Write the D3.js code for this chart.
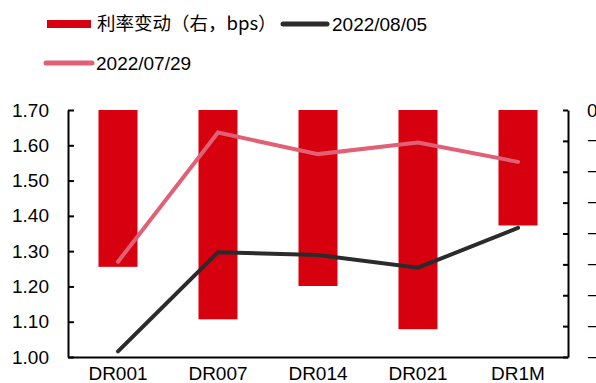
<!DOCTYPE html>
<html>
<head>
<meta charset="utf-8">
<script src="https://cdn.jsdelivr.net/npm/d3@7"></script>
<style>
  html, body { margin: 0; padding: 0; background: #fff; }
  svg { display: block; font-family: "Liberation Sans", Arial, "Noto Sans CJK SC", sans-serif; }
</style>
</head>
<body>
<svg id="chart" width="596" height="383"></svg>
<script>
// Tenors on the x axis
const categories = ["DR001", "DR007", "DR014", "DR021", "DR1M"];
// Rate change in bps (right axis)
const rateChange = [-25.4, -33.9, -28.5, -35.5, -18.7];
// Rate levels (%) on two dates (left axis)
const rateAug05 = [1.016, 1.297, 1.289, 1.253, 1.366];
const rateJul29 = [1.270, 1.636, 1.575, 1.608, 1.553];
// Tick values
const leftTicks = [1.00, 1.10, 1.20, 1.30, 1.40, 1.50, 1.60, 1.70];
const rightTicks = [0, -5, -10, -15, -20, -25, -30, -35, -40];
// Legend entries
const legendLabels = ["利率变动（右，bps）", "2022/08/05", "2022/07/29"];

const colors = { bar: "#D7000F", aug05: "#2B2B2B", jul29: "#E06176" };

const svg = d3.select("#chart");
const margin = { left: 68, right: 28, top: 110, bottom: 26 };
const W = 596, H = 383;
const x0 = margin.left, x1 = W - margin.right;
const y0 = H - margin.bottom, y1 = margin.top;

const x = d3.scaleBand().domain(categories).range([x0, x1]).paddingInner(0.61).paddingOuter(0.305);
const yL = d3.scaleLinear().domain([1.0, 1.7]).range([y0, y1]);
const yR = d3.scaleLinear().domain([-40, 0]).range([y0, y1]);

// Bars hang down from zero on the right scale
svg.append("g").selectAll("rect").data(categories).join("rect")
  .attr("x", d => x(d))
  .attr("width", x.bandwidth())
  .attr("y", yR(0))
  .attr("height", (d, i) => yR(rateChange[i]) - yR(0))
  .attr("fill", colors.bar);

// Rate lines
const line = d3.line().x((d, i) => x(categories[i]) + x.bandwidth() / 2).y(d => yL(d));
[[rateJul29, colors.jul29], [rateAug05, colors.aug05]].forEach(([vals, c]) => {
  svg.append("path").datum(vals)
    .attr("d", line)
    .attr("fill", "none")
    .attr("stroke", c)
    .attr("stroke-width", 4)
    .attr("stroke-linecap", "round")
    .attr("stroke-linejoin", "miter");
});

// Axes
const fmt = d3.format(".2f");
const gL = svg.append("g").attr("transform", `translate(${x0},0)`)
  .call(d3.axisLeft(yL).tickValues(leftTicks).tickFormat(fmt).tickSize(-6).tickSizeOuter(0).tickPadding(19));
const gR = svg.append("g").attr("transform", `translate(${x1},0)`)
  .call(d3.axisRight(yR).tickValues(rightTicks).tickFormat(d3.format("d")).tickSize(-5).tickSizeOuter(0).tickPadding(19));
const gB = svg.append("g").attr("transform", `translate(0,${y0})`)
  .call(d3.axisBottom(x).tickSize(0).tickPadding(10));

[gL, gR, gB].forEach(g => {
  g.selectAll("path.domain").attr("stroke", "#000").attr("stroke-width", 2);
  g.selectAll(".tick line").attr("stroke", "#000").attr("stroke-width", 2);
  g.selectAll("text").attr("fill", "#000").style("font-size", "19px")
    .style("font-family", '"Liberation Sans", Arial, sans-serif');
});

// Legend
const leg = svg.append("g").style("font-size", "19px").attr("fill", "#000");
leg.append("rect").attr("x", 47).attr("y", 20).attr("width", 44).attr("height", 8).attr("fill", colors.bar);
leg.append("text").attr("x", 97).attr("y", 24).attr("dy", "0.35em")
  .style("font-family", '"Noto Sans CJK SC", "Liberation Sans", sans-serif')
  .style("font-size", "18.5px").text(legendLabels[0]);
leg.append("line").attr("x1", 283).attr("x2", 327).attr("y1", 24).attr("y2", 24)
  .attr("stroke", colors.aug05).attr("stroke-width", 5).attr("stroke-linecap", "round");
leg.append("text").attr("x", 332).attr("y", 24).attr("dy", "0.35em").text(legendLabels[1]);
leg.append("line").attr("x1", 46).attr("x2", 92).attr("y1", 63).attr("y2", 63)
  .attr("stroke", colors.jul29).attr("stroke-width", 5).attr("stroke-linecap", "round");
leg.append("text").attr("x", 96).attr("y", 63).attr("dy", "0.35em").text(legendLabels[2]);
</script>
</body>
</html>
